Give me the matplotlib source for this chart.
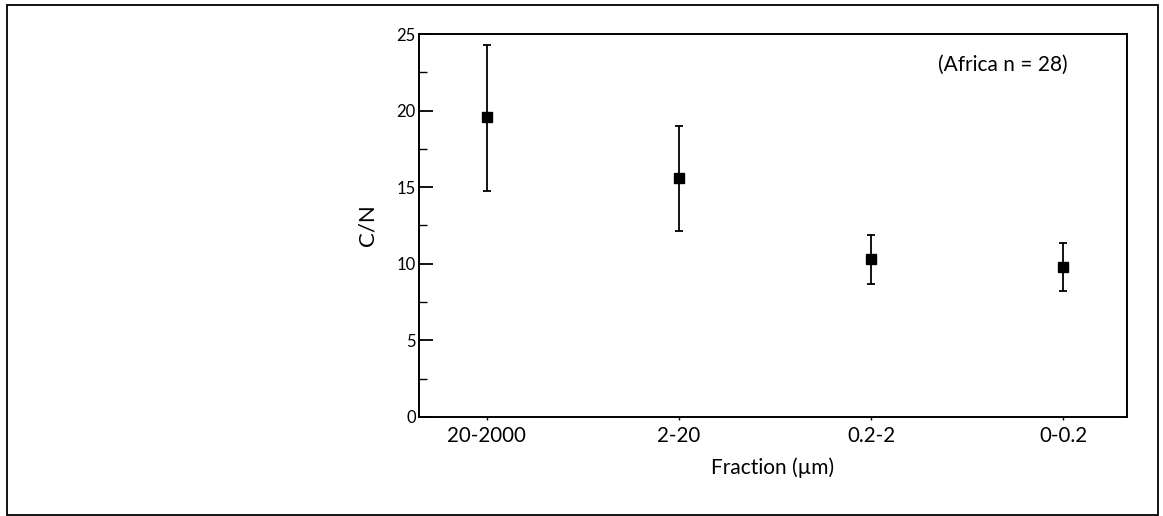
import matplotlib
matplotlib.use("Agg")
import matplotlib.pyplot as plt
from matplotlib.patches import Rectangle
from matplotlib.ticker import MultipleLocator
import numpy as np

# Data
fractions = ["20-2000", "2-20", "0.2-2", "0-0.2"]
cn_mean = [19.55, 15.6, 10.3, 9.8]
cn_low = [14.75, 12.15, 8.7, 8.2]
cn_high = [24.25, 19.0, 11.85, 11.35]
annotation = "(Africa n = 28)"
xlabel = "Fraction (\u00b5m)"
ylabel = "C/N"

plt.rcParams['font.family'] = ['Lato', 'DejaVu Sans']

fig = plt.figure(figsize=(11.63, 5.16), dpi=100)
ax = fig.add_axes([0.360, 0.1919, 0.6088, 0.7422])

x = np.arange(len(fractions))
mean = np.array(cn_mean)
yerr = np.vstack([mean - np.array(cn_low), np.array(cn_high) - mean])
ax.errorbar(x, mean, yerr=yerr, fmt='s', color='black', ecolor='black',
            markersize=7, elinewidth=1.3, capsize=3, capthick=1.3)

ax.set_xlim(-0.354, 3.33)
ax.set_ylim(0, 25)
ax.set_xticks(x)
ax.set_xticklabels(fractions, fontsize=14.8)
ax.yaxis.set_major_locator(MultipleLocator(5))
ax.yaxis.set_minor_locator(MultipleLocator(2.5))
ax.tick_params(axis='y', which='major', direction='in', length=10, width=1.3,
               labelsize=12, pad=2)
ax.tick_params(axis='y', which='minor', direction='in', length=5.5, width=1.0)
ax.tick_params(axis='x', which='major', direction='out', length=2.5, width=1.0,
               pad=4)
for s in ax.spines.values():
    s.set_linewidth(1.4)

ax.set_xlabel(xlabel, fontsize=15, labelpad=8)
ax.set_ylabel(ylabel, fontsize=16, labelpad=14)
ax.text(0.916, 0.919, annotation, transform=ax.transAxes, ha='right', va='center',
        fontsize=15)

fig.patches.append(Rectangle((0.006, 0.002), 0.9897, 0.988, transform=fig.transFigure,
                             fill=False, edgecolor='black', linewidth=1.3))

fig.savefig("out.png", dpi=100)
